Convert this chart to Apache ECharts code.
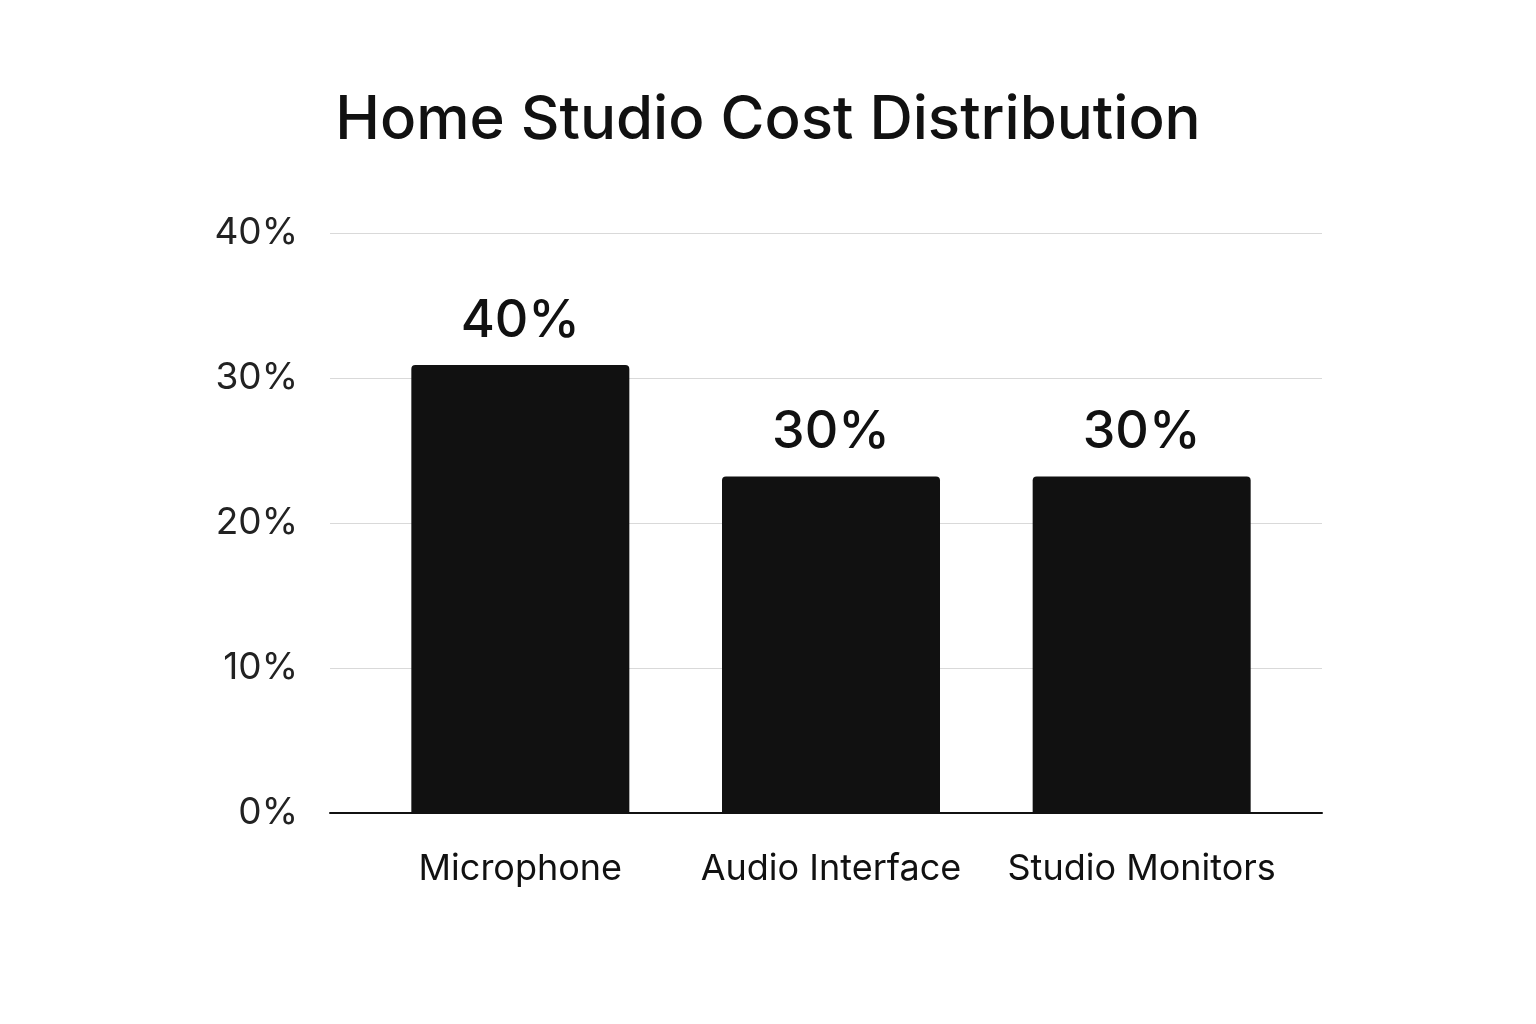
<!DOCTYPE html>
<html>
<head>
<meta charset="utf-8">
<script src="https://cdn.jsdelivr.net/npm/echarts@6/dist/echarts.min.js"></script>
<style>
  html, body {margin: 0; padding: 0; background: #fff;}
  #main {width: 1536px; height: 1024px;}
</style>
</head>
<body>
<div id="main"></div>
<script>
// 数据
const categories = ['Microphone', 'Audio Interface', 'Studio Monitors'];
// bar heights as drawn in the picture (percent)
const barHeights = [30.9, 23.2, 23.2];
// labels printed above the bars
const barLabels = ['40%', '30%', '30%'];
const yTicks = [0, 10, 20, 30, 40];

const FONT = 'Inter';

const chart = echarts.init(document.getElementById('main'));

const option = {
  backgroundColor: '#ffffff',
  title: {
    text: 'Home Studio Cost Distribution',
    left: 'center',
    top: 86,
    textStyle: {fontFamily: FONT, fontSize: 60, fontWeight: 500, color: '#111'}
  },
  grid: [
    // 背景网格: 分割线和坐标轴
    {left: 330, right: 214, top: 233, bottom: 211},
    // 柱子
    {left: 365, right: 239, top: 233, bottom: 211}
  ],
  xAxis: [
    {
      gridIndex: 0, type: 'category', data: [''],
      axisLine: {lineStyle: {color: '#111', width: 2}},
      axisTick: {show: false}, axisLabel: {show: false}
    },
    {
      gridIndex: 1, type: 'category', data: categories,
      axisLine: {show: false}, axisTick: {show: false},
      axisLabel: {fontFamily: FONT, fontSize: 36, color: '#111', margin: 38, interval: 0}
    }
  ],
  yAxis: [
    {
      gridIndex: 0, type: 'value', min: yTicks[0], max: yTicks[yTicks.length - 1], interval: 10,
      axisLine: {show: false}, axisTick: {show: false},
      axisLabel: {
        fontFamily: FONT, fontSize: 37, color: '#222', margin: 32,
        padding: [12, 0, 0, 0], formatter: '{value}%'
      },
      splitLine: {lineStyle: {color: '#d9d9d9', width: 1}}
    },
    {
      gridIndex: 1, type: 'value', min: yTicks[0], max: yTicks[yTicks.length - 1], interval: 10,
      show: false, splitLine: {show: false}
    }
  ],
  series: [{
    type: 'bar',
    xAxisIndex: 1, yAxisIndex: 1,
    data: barHeights,
    barWidth: 218,
    itemStyle: {color: '#111111', borderRadius: [4, 4, 0, 0]},
    label: {
      show: true, position: 'top', distance: 18,
      fontFamily: FONT, fontSize: 52, fontWeight: 500, color: '#111',
      formatter: p => barLabels[p.dataIndex]
    },
    z: 3
  }]
};

chart.setOption(option);
</script>
</body>
</html>
